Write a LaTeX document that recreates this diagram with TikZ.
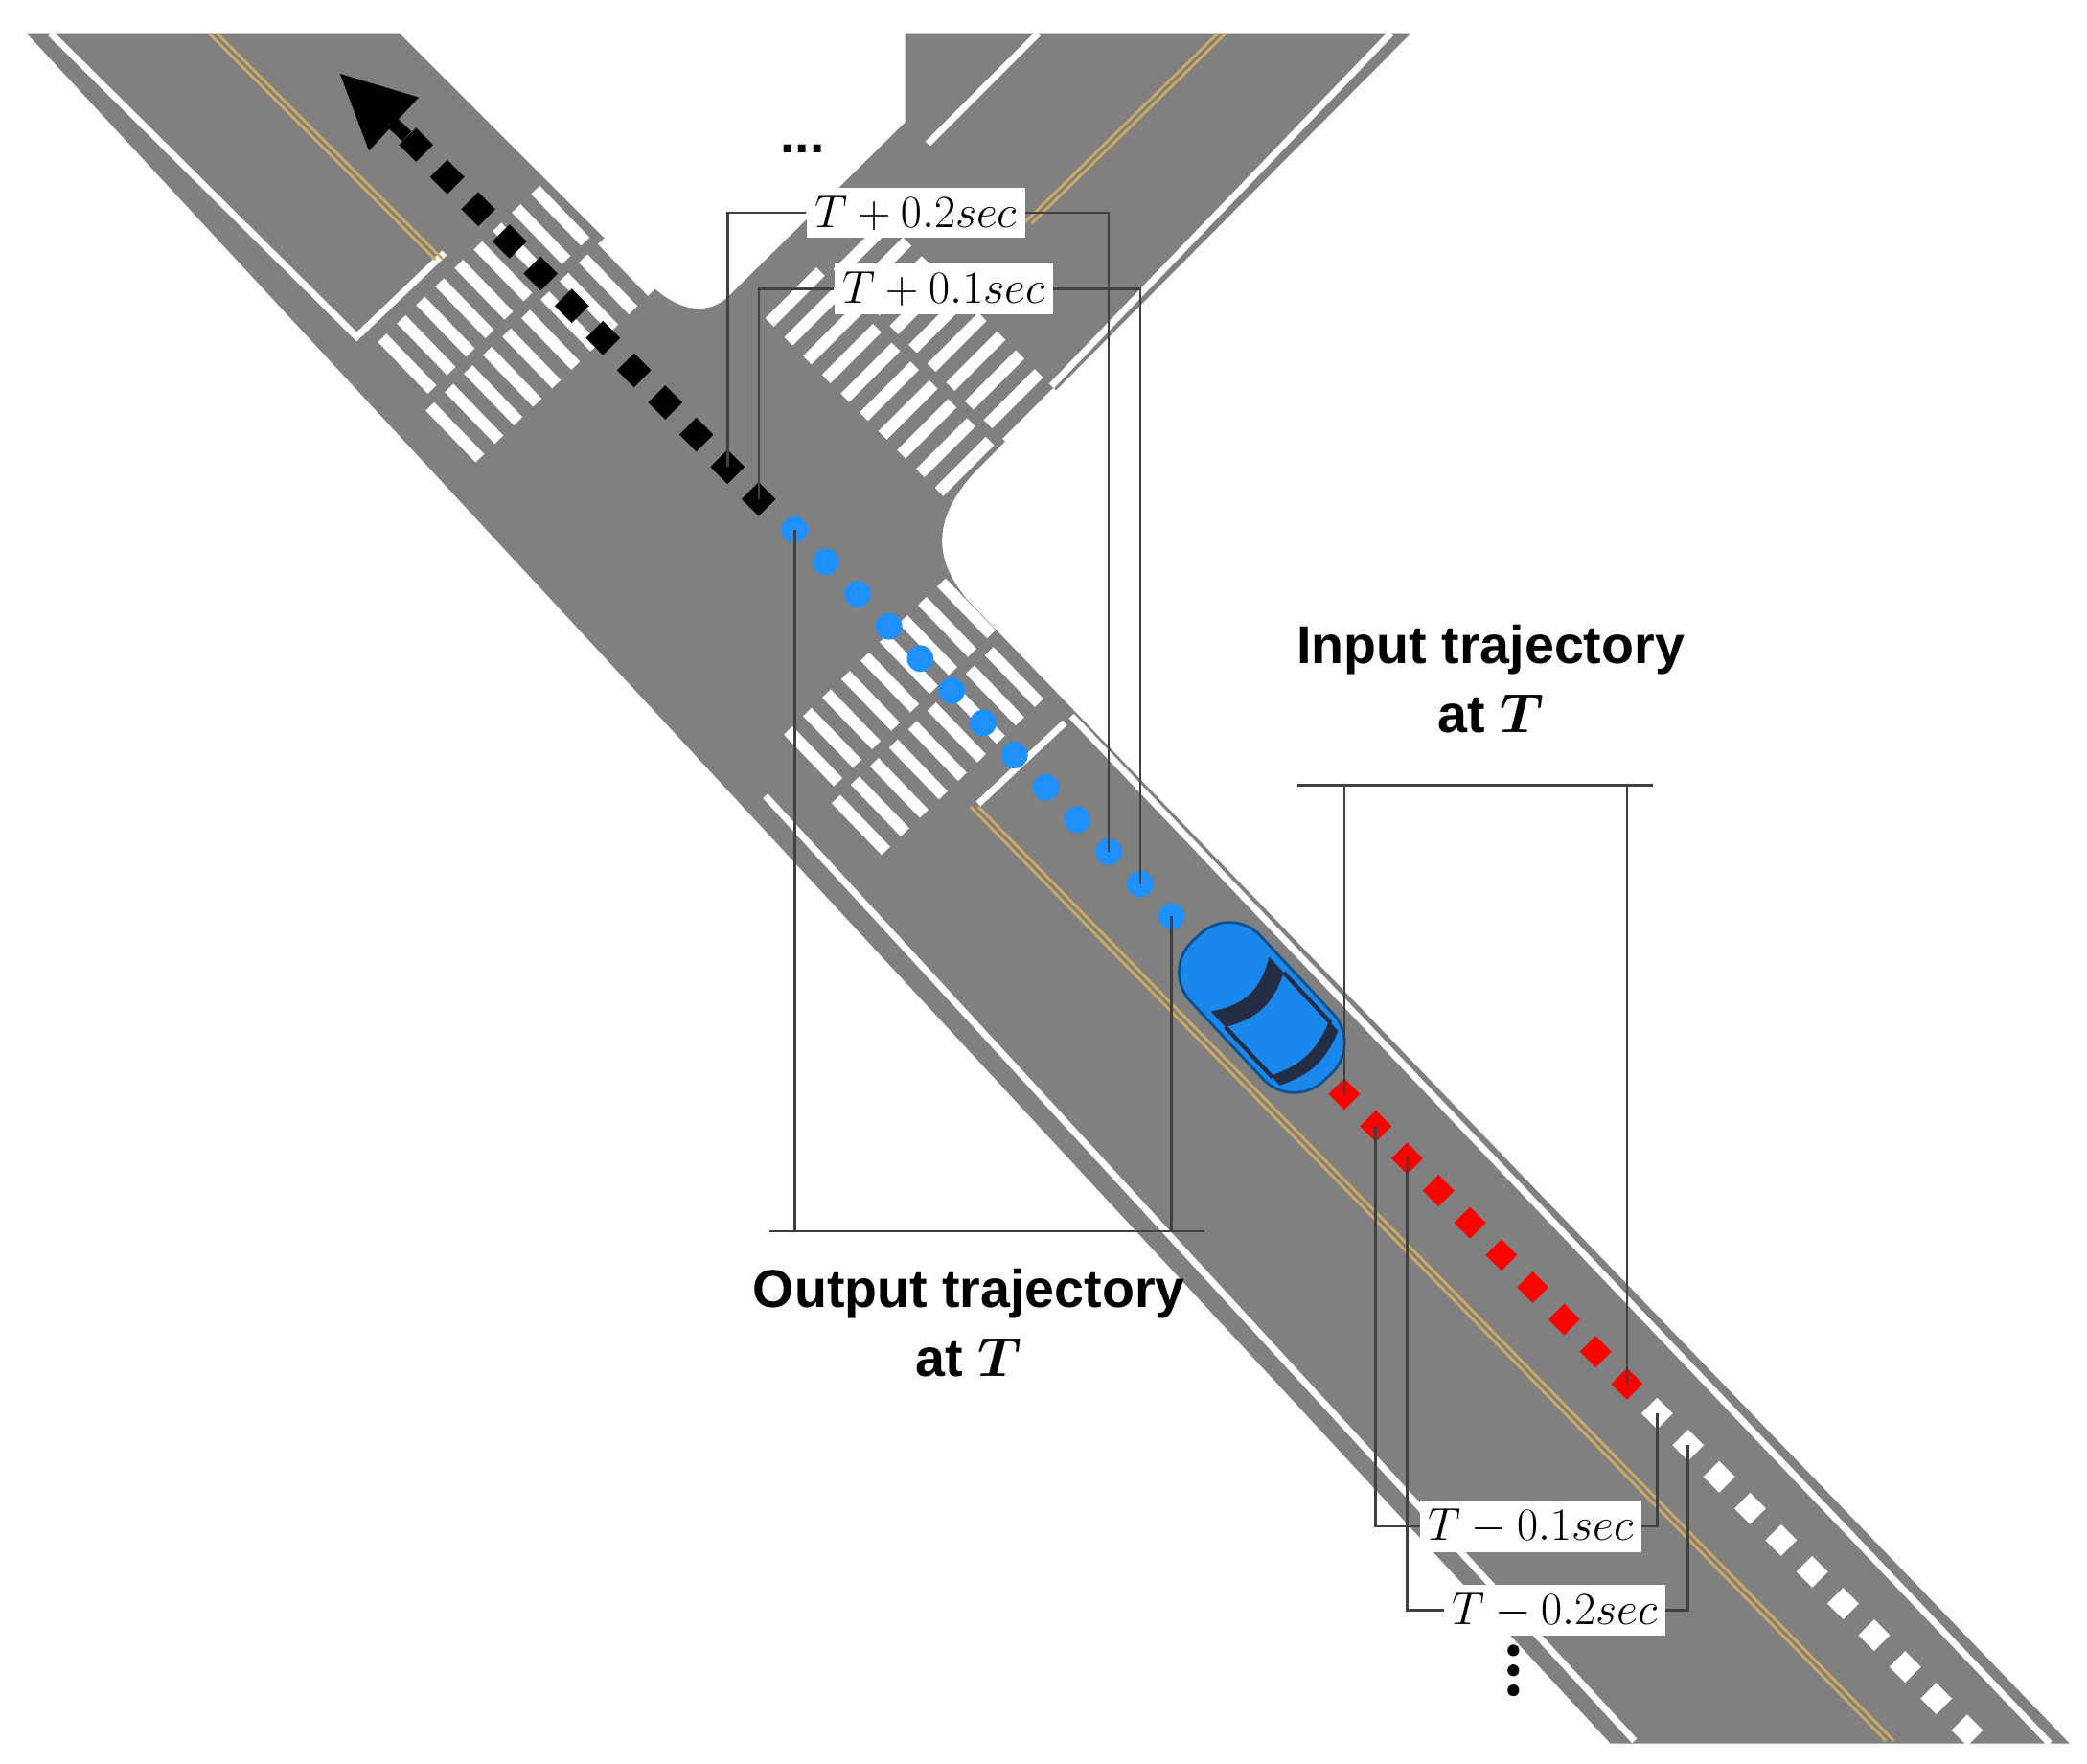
\documentclass[tikz,border=0pt]{standalone}
\usepackage{amsmath}
\usepackage{fontspec}
\setmainfont{Liberation Sans}
\usetikzlibrary{arrows.meta,shapes.geometric}
\definecolor{road}{RGB}{128,128,128}
\definecolor{yline}{RGB}{205,170,100}
\definecolor{tblue}{RGB}{30,144,255}
\definecolor{carblue}{RGB}{25,135,235}
\definecolor{glass}{RGB}{35,45,70}
\tikzset{
  edge/.style={white,line width=2.5pt},
  centre/.style={yline,line width=1pt},
  bracket/.style={black!75,line width=0.9pt},
  stripe/.style={white,line width=4.5pt},
  fut/.style={diamond,fill=black,inner sep=0pt,minimum size=13pt},
  outdot/.style={circle,fill=tblue,inner sep=0pt,minimum size=10pt},
  indot/.style={diamond,fill=red,inner sep=0pt,minimum size=12pt},
  olddot/.style={diamond,fill=white,inner sep=0pt,minimum size=12pt},
  tlabel/.style={fill=white,inner sep=3pt,font=\fontsize{17}{20}\selectfont},
  title/.style={align=center,font=\bfseries\fontsize{20}{26}\selectfont}
}
\begin{document}
\begin{tikzpicture}[x=0.5pt,y=-0.5pt]
\useasboundingbox (0,0) rectangle (1568,1325);
% road surface
\fill[road] (20,25) -- (300,25) -- (485,210) .. controls (505,232) and (530,240) .. (548,222)
  -- (680,92) -- (680,25) -- (1060,25) -- (735,352) .. controls (700,388) and (700,420) .. (728,452)
  -- (1555,1310) -- (1210,1310) -- cycle;
% edge and stop lines
\draw[edge] (38,25) -- (268,253) -- (334,190);
\draw[edge] (318,25) -- (482,188);
\draw[edge] (697,108) -- (780,25);
\draw[edge] (1045,25) -- (790,290);
\draw[edge] (575,598) -- (1228,1308);
\draw[edge] (735,604) -- (800,543);
\draw[edge] (805,538) -- (1540,1310);
% double centre lines
\foreach \o in {-3,3}{
  \draw[centre] (160+\o,25) -- (330+\o,195);
  \draw[centre] (918+\o,25) -- (772+\o,168);
  \draw[centre] (732+\o,606) -- (1420+\o,1308);
}
% crosswalks
\foreach \cx/\cy/\ang in {385/240/-46, 690/535/-46, 690/272/45}{
  \begin{scope}[shift={(\cx,\cy)},rotate=\ang]
    \foreach \k in {-5,...,4}{
      \draw[stripe] (-58,\k*20) -- (-4,\k*20);
      \draw[stripe] (4,\k*20+10) -- (58,\k*20+10);
    }
  \end{scope}
}
% trajectories
\foreach \i in {0,...,11}
  \node[fut] (f\i) at (570-23.4*\i,375-24.2*\i) {};
\draw[line width=5pt,-{Triangle[length=28pt,width=26pt]}] (f11) -- (255,55);
\foreach \i in {0,...,12}
  \node[outdot] (o\i) at (597+23.6*\i,398+24.2*\i) {};
\foreach \i in {0,...,9}
  \node[indot] (r\i) at (1010+23.6*\i,822+24.2*\i) {};
\foreach \i in {0,...,10}
  \node[olddot] (w\i) at (1245+23.3*\i,1062+23.8*\i) {};
% car
\begin{scope}[shift={(948,757)},rotate=-47]
  \fill[carblue,draw=carblue!60!black,line width=1pt,rounded corners=16pt] (-72,-36) rectangle (72,36);
  \fill[glass] (-24,-30) .. controls (-10,-8) and (-10,8) .. (-24,30) -- (-8,30) .. controls (4,8) and (4,-8) .. (-8,-30) -- cycle;
  \fill[glass] (42,-30) .. controls (52,-8) and (52,8) .. (42,30) -- (52,30) .. controls (62,8) and (62,-8) .. (52,-30) -- cycle;
  \draw[glass,line width=1.5pt] (-8,-30) -- (44,-30) (-8,30) -- (44,30);
\end{scope}
% output brackets
\node[tlabel] (p2) at (688,160) {$T+0.2sec$};
\node[tlabel] (p1) at (709,217) {$T+0.1sec$};
\node[font=\bfseries\fontsize{20}{20}\selectfont] (pdots) at (603,112) {...};
\draw[bracket] (f1.center) |- (p2.west);
\draw[bracket] (p2.east) -| (o10.center);
\draw[bracket] (f0.center) |- (p1.west);
\draw[bracket] (p1.east) -| (o11.center);
\coordinate (ol) at (578,925);
\coordinate (or) at (905,925);
\draw[bracket] (ol) -- (or);
\draw[bracket] (o0.center) -- (o0.center |- ol);
\draw[bracket] (o12.center) -- (o12.center |- ol);
\node[title] (otitle) at (728,994) {Output trajectory\\at $\boldsymbol{T}$};
% input brackets
\coordinate (il) at (975,590);
\coordinate (ir) at (1242,590);
\draw[bracket] (il) -- (ir);
\draw[bracket] (r0.center |- il) -- (r0.center);
\draw[bracket] (r9.center |- il) -- (r9.center);
\node[title] (ititle) at (1120,510) {Input trajectory\\at $\boldsymbol{T}$};
\node[tlabel] (m1) at (1150,1147) {$T-0.1sec$};
\node[tlabel] (m2) at (1168,1210) {$T-0.2sec$};
\draw[bracket] (r1.center) |- (m1.west);
\draw[bracket] (m1.east) -| (w0.center);
\draw[bracket] (r2.center) |- (m2.west);
\draw[bracket] (m2.east) -| (w1.center);
% vertical dots
\foreach \y in {1240,1255,1270}
  \fill (1137,\y) circle (2.2pt);
\end{tikzpicture}
\end{document}
